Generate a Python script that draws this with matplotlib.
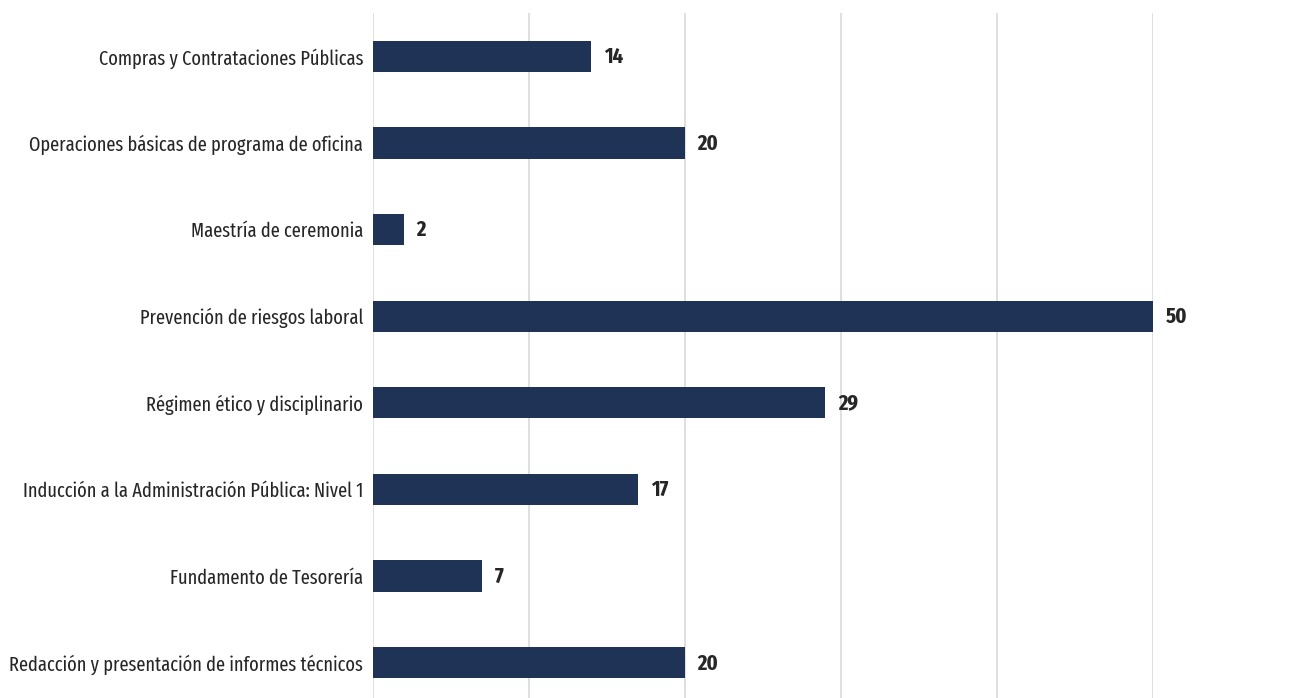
import matplotlib
matplotlib.use("Agg")
import matplotlib.pyplot as plt

# course names, top to bottom as in the chart
courses = [
    "Compras y Contrataciones Públicas",
    "Operaciones básicas de programa de oficina",
    "Maestría de ceremonia",
    "Prevención de riesgos laboral",
    "Régimen ético y disciplinario",
    "Inducción a la Administración Pública: Nivel 1",
    "Fundamento de Tesorería",
    "Redacción y presentación de informes técnicos",
]
participants = [14, 20, 2, 50, 29, 17, 7, 20]
x_ticks = [0, 10, 20, 30, 40, 50]

plt.rcParams["font.family"] = ["Fira Sans Extra Condensed", "Roboto Condensed", "DejaVu Sans"]

BAR_COLOR = "#1f3356"
GRID_COLOR = "#d9d9d9"
TEXT_COLOR = "#262626"

fig = plt.figure(figsize=(12.96, 6.98), dpi=100)
ax = fig.add_axes([373 / 1296, -8 / 698, 780 / 1296, 693 / 698])

y = list(range(len(courses)))
ax.barh(y, participants, height=0.36, color=BAR_COLOR, zorder=3)

for yi, v in zip(y, participants):
    ax.annotate(str(v), xy=(v, yi), xytext=(9, -0.5), textcoords="offset points",
                va="center", ha="left", fontsize=16, fontweight="bold",
                color=TEXT_COLOR, annotation_clip=False)

ax.set_xlim(0, 50)
ax.set_ylim(len(courses) - 0.5, -0.5)
ax.set_xticks(x_ticks)
ax.xaxis.grid(True, color=GRID_COLOR, linewidth=1.2, zorder=0)
ax.tick_params(axis="x", bottom=False, labelbottom=False)
ax.set_yticks(y)
ax.set_yticklabels(courses, fontsize=14.4, color=TEXT_COLOR)
ax.tick_params(axis="y", length=0, pad=7)
for side in ["top", "right", "bottom", "left"]:
    ax.spines[side].set_visible(False)

fig.savefig("out.png", dpi=100)
